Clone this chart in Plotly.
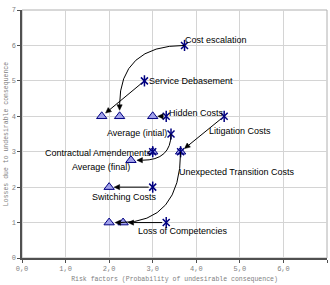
import plotly.graph_objects as go
import math

# ---- data ----
labels = ["Cost escalation", "Service Debasement", "Hidden Costs", "Litigation Costs",
          "Average (intial)", "Contractual Amendements", "Unexpected Transition Costs",
          "Switching Costs", "Loss of Competencies"]
x_initial = [3.73, 2.81, 3.31, 4.64, 3.42, 3.00, 3.64, 3.00, 3.31]
y_initial = [6.0, 5.0, 4.0, 4.0, 3.5, 3.0, 3.0, 2.0, 1.0]
x_final = [2.24, 1.83, 3.00, 3.64, 2.50, 3.00, 2.00, 2.00, 2.32]
y_final = [4.0, 4.0, 4.0, 3.0, 2.76, 3.0, 1.0, 2.0, 1.0]
final_labels = ["", "", "", "", "Average (final)", "", "", "", ""]
# arrow style per item: 'h' curve (horizontal first), 'v' curve (vertical first), 's' straight, None
arrow_kind = ["h", "s", "s", "s", "v", None, "v", "s", "s"]
x_ticks = [0, 1, 2, 3, 4, 5, 6, 7]
x_tick_text = ["0,0", "1,0", "2,0", "3,0", "4,0", "5,0", "6,0", "7,0"]
y_ticks = [0, 1, 2, 3, 4, 5, 6, 7]

# label placement (anchor, xshift, yshift) in pixels
label_pos = [("left", -2, 5.5), ("left", 2.5, 0), ("left", 1, 3.5), ("left", -17, -15),
             ("right", -2, 1.5), ("right", 1, -1), ("left", -3.5, -20.5),
             ("right", 6, -9.7), ("left", -30.5, -8.7)]
final_label_pos = ("right", 1, -6.7)

W, H = 330, 285
ML, MR, MT, MB = 22, 3, 10, 27
pxx = (W - ML - MR) / 7.0
pxy = (H - MT - MB) / 7.0

NAVY = "#000080"
fig = go.Figure()

# final positions (triangles)
fig.add_trace(go.Scatter(x=x_final, y=y_final, mode="markers",
                         marker=dict(symbol="triangle-up", size=9, color="#a0a0ea",
                                     line=dict(color=NAVY, width=1)),
                         hoverinfo="skip", showlegend=False))
# initial positions (stars: x + vertical line)
fig.add_trace(go.Scatter(x=x_initial, y=y_initial, mode="markers",
                         marker=dict(symbol="x-thin-open", size=7, color=NAVY,
                                     line=dict(color=NAVY, width=1.5)),
                         hoverinfo="skip", showlegend=False))
fig.add_trace(go.Scatter(x=x_initial, y=y_initial, mode="markers",
                         marker=dict(symbol="line-ns-open", size=8, color=NAVY,
                                     line=dict(color=NAVY, width=1.5)),
                         hoverinfo="skip", showlegend=False))

shapes = []
annotations = []
FONT = dict(family="Liberation Sans, Arial", size=9, color="#000000")


def head_path(tx, ty, ux, uy, length=5.5, half=2.6):
    # ux, uy: unit direction in pixel space (y up); returns closed path in data coords
    bx = tx - ux * length / pxx
    by = ty - uy * length / pxy
    px_, py_ = -uy, ux
    lx = bx + px_ * half / pxx
    ly = by + py_ * half / pxy
    rx = bx - px_ * half / pxx
    ry = by - py_ * half / pxy
    return f"M {tx},{ty} L {lx},{ly} L {rx},{ry} Z", bx, by


for i, kind in enumerate(arrow_kind):
    x0, y0, x1, y1 = x_initial[i], y_initial[i], x_final[i], y_final[i]
    if kind is None:
        continue
    if kind == "s":
        dx = (x1 - x0) * pxx
        dy = (y1 - y0) * pxy
        n = math.hypot(dx, dy)
        ux, uy = dx / n, dy / n
        sx = x0 + ux * 4 / pxx
        sy = y0 + uy * 4 / pxy
        tx = x1 - ux * 5 / pxx
        ty = y1 - uy * 5 / pxy
        hp, bx, by = head_path(tx, ty, ux, uy)
        shapes.append(dict(type="path", xref="x", yref="y",
                           path=f"M {sx},{sy} L {bx},{by}",
                           line=dict(color="#000000", width=1)))
    else:
        cx, cy = (x1, y0) if kind == "h" else (x0, y1)
        dx = (x1 - cx) * pxx
        dy = (y1 - cy) * pxy
        n = math.hypot(dx, dy) or 1.0
        ux, uy = dx / n, dy / n
        tx = x1 - ux * 6 / pxx
        ty = y1 - uy * 6 / pxy
        hp, bx, by = head_path(tx, ty, ux, uy)
        shapes.append(dict(type="path", xref="x", yref="y",
                           path=f"M {x0},{y0} Q {cx},{cy} {bx},{by}",
                           line=dict(color="#000000", width=1)))
    shapes.append(dict(type="path", xref="x", yref="y", path=hp,
                       fillcolor="#000000", line=dict(color="#000000", width=0.5)))

for i, lab in enumerate(labels):
    anc, xs, ys = label_pos[i]
    annotations.append(dict(x=x_initial[i], y=y_initial[i], xref="x", yref="y",
                            text=lab, showarrow=False, xanchor=anc, yanchor="middle",
                            xshift=xs, yshift=ys, font=FONT))
for i, lab in enumerate(final_labels):
    if not lab:
        continue
    anc, xs, ys = final_label_pos
    annotations.append(dict(x=x_final[i], y=y_final[i], xref="x", yref="y",
                            text=lab, showarrow=False, xanchor=anc, yanchor="middle",
                            xshift=xs, yshift=ys, font=FONT))

# plot border (light gray)
shapes.append(dict(type="rect", xref="paper", yref="paper", x0=0, y0=0, x1=1, y1=1,
                   line=dict(color="#b0b0b0", width=1), layer="below"))

fig.update_layout(
    width=W, height=H,
    margin=dict(l=ML, r=MR, t=MT, b=MB),
    paper_bgcolor="white", plot_bgcolor="white",
    hovermode=False,
    shapes=shapes, annotations=annotations,
    xaxis=dict(range=[0, 7], tickvals=x_ticks, ticktext=x_tick_text,
               showgrid=True, gridcolor="#d4d4d4", gridwidth=1, zeroline=False,
               showline=True, linecolor="#505050", linewidth=1.5,
               ticks="outside", ticklen=3, tickcolor="#505050",
               tickfont=dict(family="Liberation Mono", size=7, color="#808080"),
               title=dict(text="Risk factors (Probability of undesirable consequence)",
                          font=dict(family="Liberation Mono", size=6.5, color="#808080"),
                          standoff=4)),
    yaxis=dict(range=[0, 7], tickvals=y_ticks,
               showgrid=True, gridcolor="#d4d4d4", gridwidth=1, zeroline=False,
               showline=True, linecolor="#505050", linewidth=1.5,
               ticks="outside", ticklen=3, tickcolor="#505050",
               tickfont=dict(family="Liberation Mono", size=7, color="#808080"),
               title=dict(text="Losses due to undesirable consequence",
                          font=dict(family="Liberation Mono", size=6.5, color="#808080"),
                          standoff=2)),
)

fig.write_html("out.html")
